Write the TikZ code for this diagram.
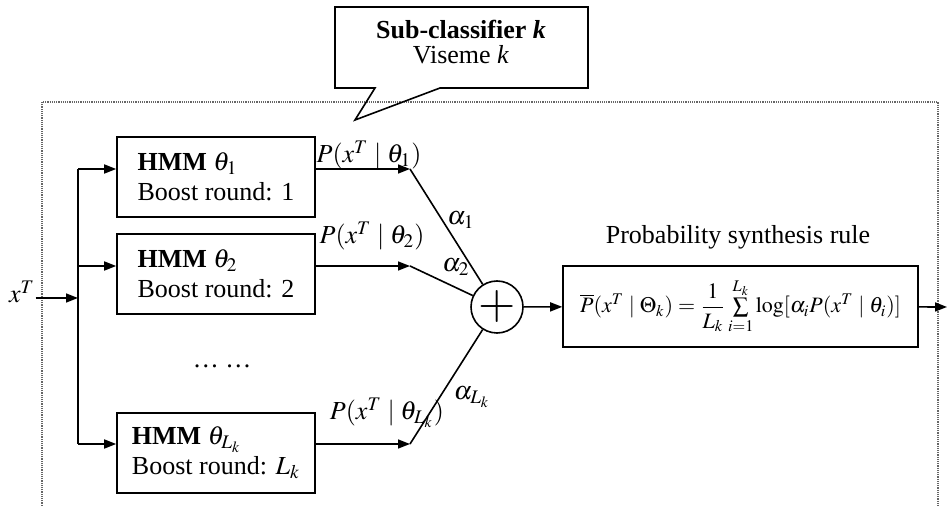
\documentclass[tikz,border=0pt]{standalone}
\usepackage{amsmath,amssymb}
\usepackage{mathptmx}
\usepackage{fontspec}
\setmainfont{Liberation Serif}
\usetikzlibrary{arrows.meta}

\begin{document}
\begin{tikzpicture}[x=0.5pt, y=-0.5pt, line width=0.8pt, >={Triangle[length=6pt,width=4.5pt]},
    every node/.style={font=\fontsize{13}{14}\selectfont, inner sep=0pt},
    hmm/.style={draw, minimum width=99pt, minimum height=40pt, align=left},
    frame/.style={line width=0.6pt, black!60, dash pattern=on 0.6pt off 0.5pt}]
    \useasboundingbox (0,0) rectangle (947,507);
    % dotted frame of the sub-classifier
    \draw[frame] (42,530) -- (42,102) -- (938,102) -- (938,530);
    % callout
    \draw (335,7) -- (588,7) -- (588,88) -- (440,88) -- (355,120) -- (375,88) -- (335,88) -- cycle;
    \node[align=center, font=\fontsize{13}{12.5}\selectfont] (sc) at (461,42) {\textbf{Sub-classifier \textit{k}}\\Viseme \textit{k}};
    % input and bus
    \node (xT) at (22,292) {$x^T$};
    \coordinate (j) at (78,298);
    \coordinate (t1) at (78,169);
    \coordinate (t2) at (78,266);
    \coordinate (t3) at (78,444);
    \draw[->] (xT.east |- j) -- (j);
    \draw (t1) -- (t3);
    % boosted HMMs
    \node[hmm] (b1) at (216,177) {\textbf{HMM} $\theta_1$\\[1pt]Boost round: 1};
    \node[hmm] (b2) at (216,274) {\textbf{HMM} $\theta_2$\\[1pt]Boost round: 2};
    \node[hmm] (b3) at (216,453) {\textbf{HMM} $\theta_{L_k}$\\[1pt]Boost round: $L_k$};
    \node (dots) at (222,366) {\dots\ \dots};
        \draw[->] (t1) -- (t1 -| b1.west);
        \draw[->] (t2) -- (t2 -| b2.west);
        \draw[->] (t3) -- (t3 -| b3.west);
    % outputs
    \coordinate (o1) at (410,169);
    \coordinate (o2) at (410,266);
    \coordinate (o3) at (410,444);
        \draw[->] (o1 -| b1.east) -- (o1);
        \draw[->] (o2 -| b2.east) -- (o2);
        \draw[->] (o3 -| b3.east) -- (o3);
    \node (p1) at (369,155) {$P(x^T\mid\theta_1)$};
    \node (p2) at (372,236) {$P(x^T\mid\theta_2)$};
    \node (p3) at (387,413) {$P(x^T\mid\theta_{L_k})$};
    % weighted sum
    \node[circle, draw, minimum size=26pt, font=\fontsize{24}{24}\selectfont] (sum) at (497,307) {$+$};
        \draw (o1) -- (sum);
        \draw (o2) -- (sum);
        \draw (o3) -- (sum);
    \node (a1) at (461,220) {$\alpha_1$};
    \node (a2) at (456,267) {$\alpha_2$};
    \node (a3) at (472,397) {$\alpha_{L_k}$};
    % synthesis rule
    \node (rt) at (738,237) {Probability synthesis rule};
    \node[draw, minimum width=177.5pt, minimum height=40.5pt, font=\fontsize{11}{12}\selectfont] (rule) at (740.5,306.5)
        {$\overline{P}(x^T\mid\Theta_k)=\dfrac{1}{L_k}\sum\limits_{i=1}^{L_k}\log[\alpha_i P(x^T\mid\theta_i)]$};
    \coordinate (out) at (947,307);
        \draw[->] (sum) -- (rule);
        \draw[->] (rule) -- (out);
\end{tikzpicture}
\end{document}
